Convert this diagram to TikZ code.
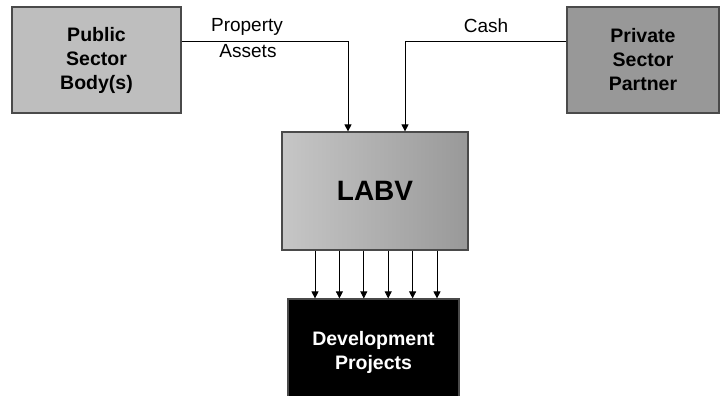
\documentclass[tikz,border=0pt]{standalone}
\usepackage{fontspec}
\setmainfont{Liberation Sans}
\usetikzlibrary{positioning}
\usetikzlibrary{arrows.meta}
\definecolor{boxline}{HTML}{4A4A4A}
\definecolor{publicgray}{HTML}{BEBEBE}
\definecolor{privategray}{HTML}{989898}
\definecolor{labvlight}{HTML}{C6C6C6}
\definecolor{labvdark}{HTML}{999999}
\tikzset{
        every node/.style={align=center,inner sep=0pt},
        boxnode/.style={draw=boxline,line width=1.2pt,font=\fontsize{19.5}{24}\selectfont\bfseries},
        flowline/.style={line width=0.8pt,-{Triangle[length=7pt,width=7pt]}},
        flowtext/.style={font=\fontsize{19}{23}\selectfont},
        }
\begin{document}
\begin{tikzpicture}[x=1pt,y=-1pt]

			\clip (0,0) rectangle (723,396);

			% partner boxes.....................
			\node [boxnode, fill=publicgray, minimum width=169pt, minimum height=106pt] (pub) at (96.5,60) {Public\\Sector\\Body(s)};
			\node [boxnode, fill=privategray, minimum width=152pt, minimum height=106pt] (priv) at (643,60) {Private\\Sector\\Partner};

			% LABV box....................
			\node [boxnode, left color=labvlight, right color=labvdark, minimum width=186pt, minimum height=118pt, font=\fontsize{28}{32}\selectfont\bfseries] (labv) at (375,191) {LABV};

			% projects box...................
			\node [boxnode, fill=black, text=white, minimum width=171pt, minimum height=106pt] (devp) at (373.5,352) {Development\\Projects};

			% flows into LABV...................
			\coordinate (flow) at (0,41);
			\draw [flowline] (pub.east |- flow) -| ([xshift=-27pt]labv.north);
			\draw [flowline] (priv.west |- flow) -| ([xshift=30pt]labv.north);

			% flow labels.........
			\node [flowtext] (prop) at (247,27) {Property};
			\node [flowtext] (asst) at (248,51) {Assets};
			\node [flowtext] (cash) at (486,26) {Cash};

			% flows into projects.........
			\foreach \k in {-2.5,-1.5,...,2.5}
				\draw [flowline] ([xshift=\k*24.4pt+1pt]labv.south) -- ([xshift=\k*24.4pt+1pt]labv.south |- devp.north);
		\end{tikzpicture}
\end{document}
